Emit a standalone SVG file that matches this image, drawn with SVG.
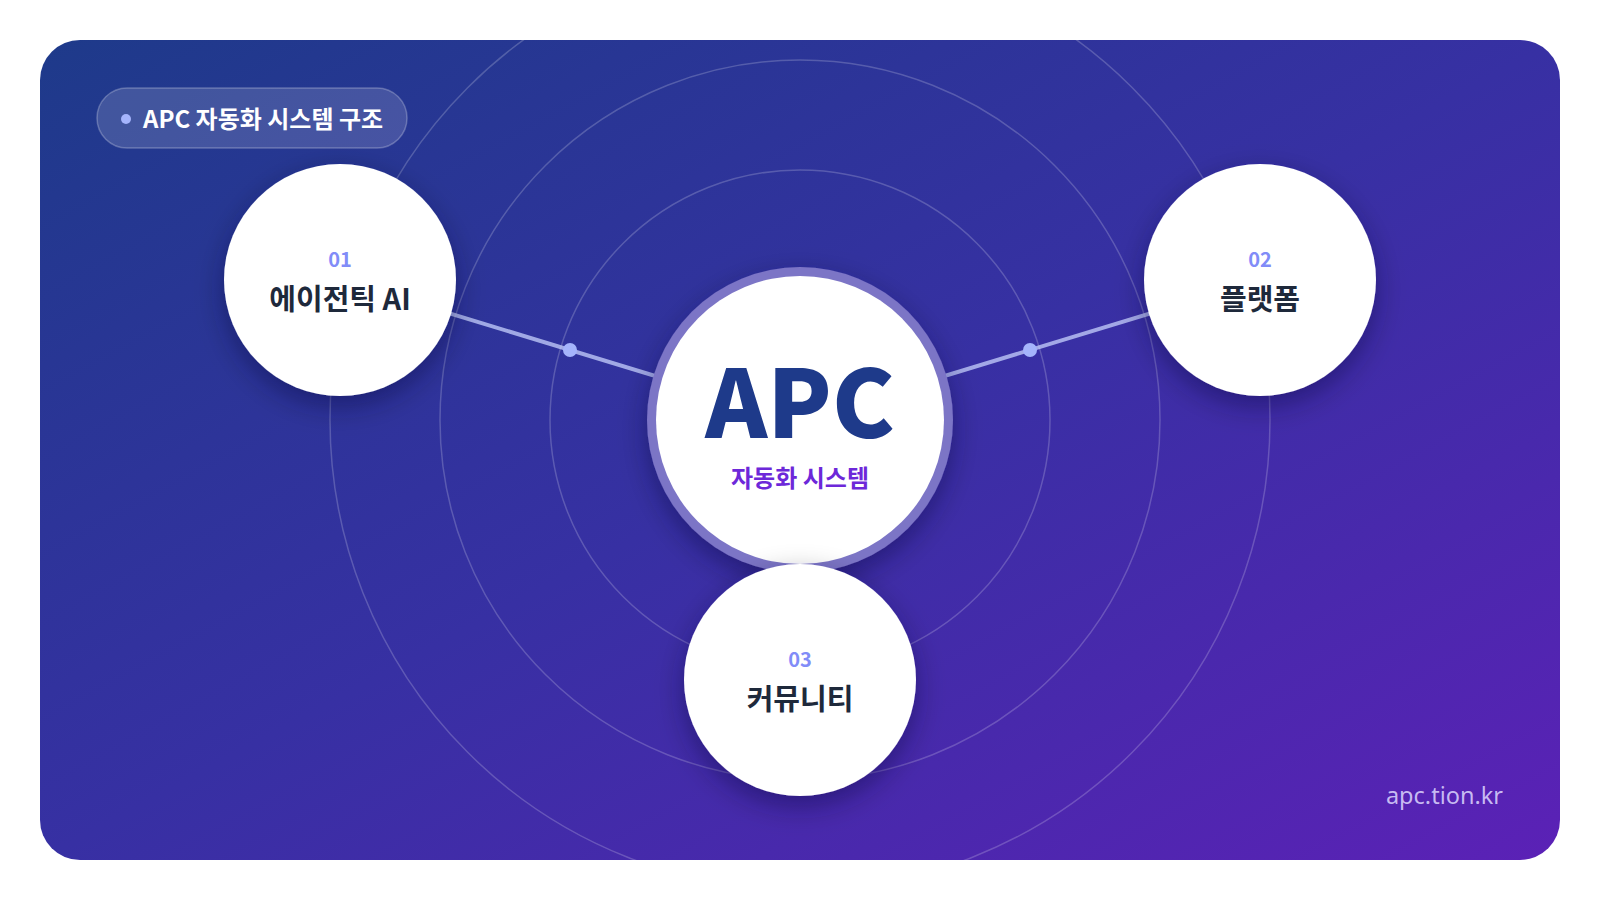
<svg xmlns="http://www.w3.org/2000/svg" width="1600" height="900" viewBox="0 0 1600 900">
  <defs>
    <linearGradient id="bg" x1="0" y1="0" x2="1" y2="1">
      <stop offset="0" stop-color="#1e3a8a"/>
      <stop offset="0.5" stop-color="#3730a3"/>
      <stop offset="1" stop-color="#5b21b6"/>
    </linearGradient>
    <clipPath id="cardClip">
      <rect x="40" y="40" width="1520" height="820" rx="40" ry="40"/>
    </clipPath>
    <filter id="shadow" x="-30%" y="-30%" width="160%" height="170%">
      <feDropShadow dx="0" dy="10" stdDeviation="14" flood-color="#0b0830" flood-opacity="0.4"/>
    </filter>
    <style>
      .ring { fill: none; stroke: #ffffff; stroke-opacity: 0.2; stroke-width: 1.5; }
      .conn { stroke: #c7d2fe; stroke-opacity: 0.75; stroke-width: 4; fill: none; }
      .dot { fill: #a5b4fc; }
      .node { fill: #ffffff; filter: url(#shadow); }
      .num { font-family: "Noto Sans CJK KR", "Noto Sans", sans-serif; font-size: 20px; font-weight: 700; fill: #818cf8; text-anchor: middle; }
      .title { font-family: "Noto Sans CJK KR", "Noto Sans", sans-serif; font-size: 29px; font-weight: 700; fill: #1e293b; text-anchor: middle; }
    </style>
  </defs>

  <rect x="40" y="40" width="1520" height="820" rx="40" ry="40" fill="url(#bg)"/>

  <g id="rings" clip-path="url(#cardClip)">
    <circle class="ring" cx="800" cy="420" r="250"/>
    <circle class="ring" cx="800" cy="420" r="360"/>
    <circle class="ring" cx="800" cy="420" r="470"/>
  </g>

  <g id="badge">
    <rect x="97" y="88" width="310" height="60" rx="30" ry="30" fill="#ffffff" fill-opacity="0.15" stroke="#ffffff" stroke-opacity="0.25" stroke-width="1.5"/>
    <circle cx="126" cy="119" r="5" fill="#a5b4fc"/>
    <text x="143" y="128" font-family="Noto Sans CJK KR, Noto Sans, sans-serif" font-size="24" font-weight="700" fill="#ffffff">APC 자동화 시스템 구조</text>
  </g>

  <g id="connectors">
    <line class="conn" x1="340" y1="280" x2="800" y2="420"/>
    <line class="conn" x1="1260" y1="280" x2="800" y2="420"/>
    <circle class="dot" cx="570" cy="350" r="7"/>
    <circle class="dot" cx="1030" cy="350" r="7"/>
  </g>

  <g id="center">
    <circle cx="800" cy="420" r="153" fill="#7c74c6" filter="url(#shadow)"/>
    <circle cx="800" cy="420" r="144" fill="#ffffff"/>
    <text x="800" y="438" font-family="Noto Sans CJK KR, Noto Sans, sans-serif" font-size="94" font-weight="900" fill="#1e3a8a" text-anchor="middle">APC</text>
    <text x="800" y="487" font-family="Noto Sans CJK KR, Noto Sans, sans-serif" font-size="24" font-weight="700" fill="#6d28d9" text-anchor="middle">자동화 시스템</text>
  </g>

  <g id="node1">
    <circle class="node" cx="340" cy="280" r="116"/>
    <text class="num" x="340" y="267">01</text>
    <text class="title" x="340" y="310">에이전틱 AI</text>
  </g>

  <g id="node2">
    <circle class="node" cx="1260" cy="280" r="116"/>
    <text class="num" x="1260" y="267">02</text>
    <text class="title" x="1260" y="310">플랫폼</text>
  </g>

  <g id="node3">
    <circle class="node" cx="800" cy="680" r="116"/>
    <text class="num" x="800" y="667">03</text>
    <text class="title" x="800" y="710">커뮤니티</text>
  </g>

  <text id="footer" x="1503" y="804" font-family="Noto Sans, Noto Sans CJK KR, sans-serif" font-size="23.5" fill="#ddd6fe" fill-opacity="0.85" text-anchor="end">apc.tion.kr</text>
</svg>
